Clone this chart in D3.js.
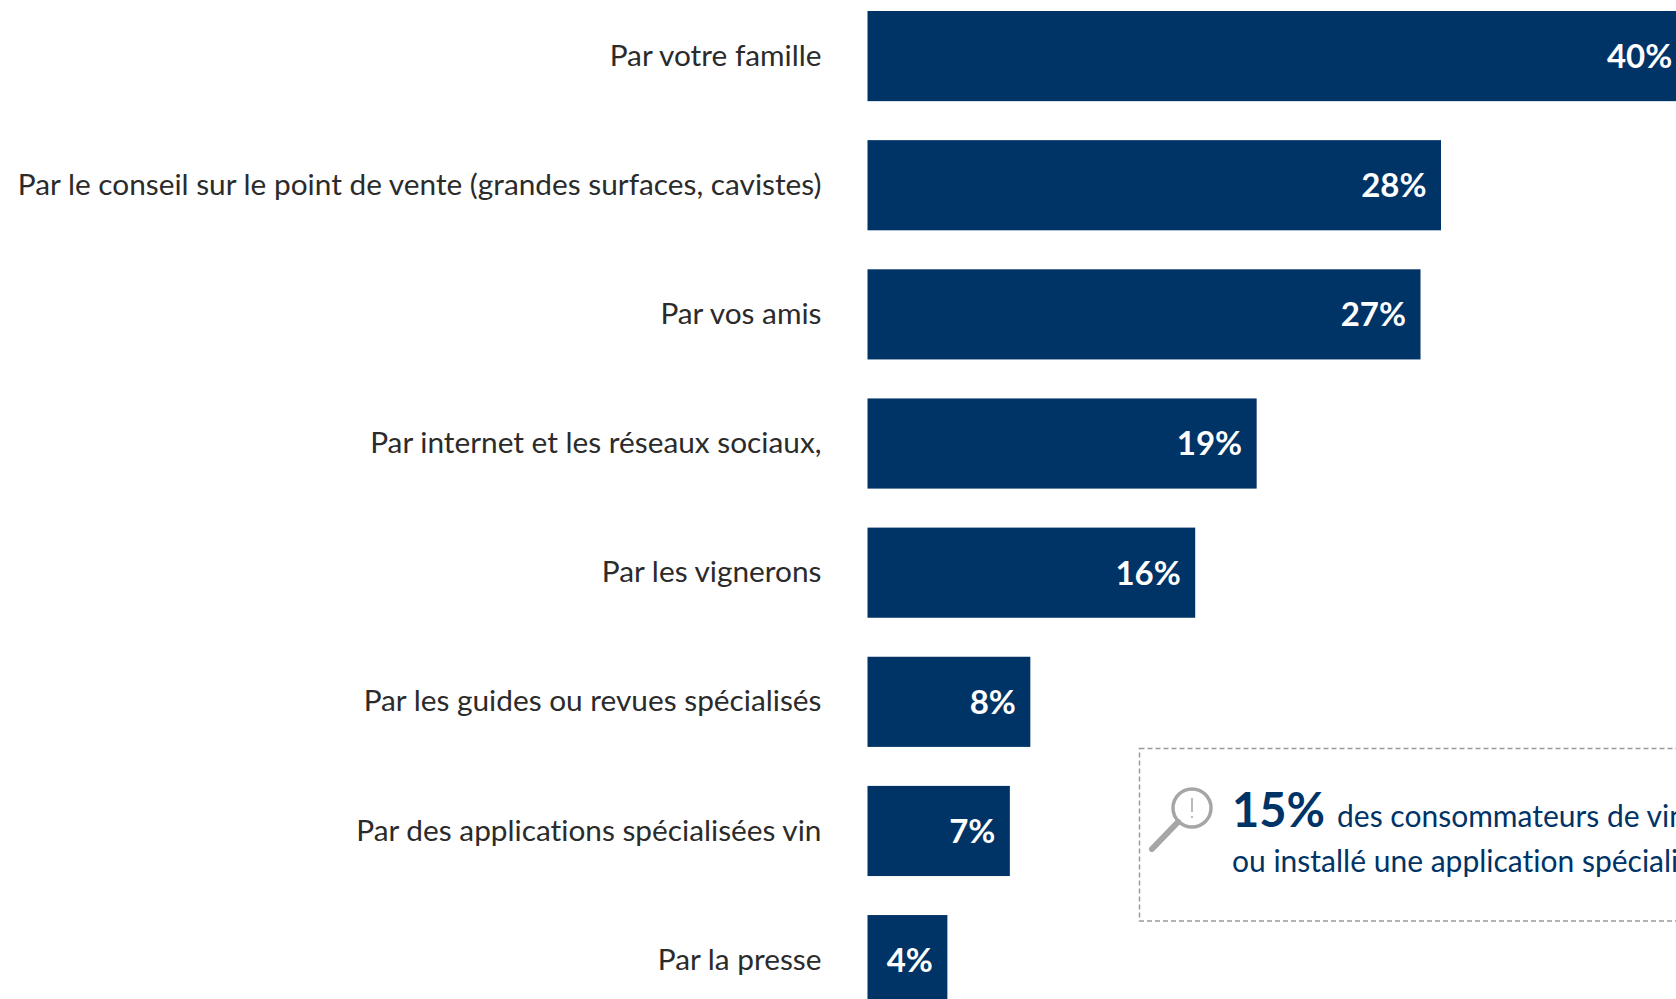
<!DOCTYPE html>
<html lang="fr"><head><meta charset="utf-8">
<script src="https://cdn.jsdelivr.net/npm/d3@7/dist/d3.min.js"></script>
<style>html,body{margin:0;padding:0;background:#fff;overflow:hidden}svg{display:block}text{font-family:Lato,"Open Sans",sans-serif;font-variant-ligatures:none}</style>
</head><body><svg id="c" width="1676" height="999"></svg>
<script>
const categories=["Par votre famille","Par le conseil sur le point de vente (grandes surfaces, cavistes)","Par vos amis","Par internet et les réseaux sociaux,","Par les vignerons","Par les guides ou revues spécialisés","Par des applications spécialisées vin","Par la presse"];
const values=[40,28,27,19,16,7.95,6.95,3.9];
const valueLabels=["40%","28%","27%","19%","16%","8%","7%","4%"];
const calloutBig="15%";
const calloutLine1="des consommateurs de vin";
const calloutLine2="ou installé une application spécialisée";
const NAVY="#003366";
const svg=d3.select("#c");
const x=d3.scaleLinear().domain([0,28]).range([867.5,1441]);
const y=d3.scaleBand().domain(categories).range([11,11+129.15*8-39]).paddingInner(39/129.15).paddingOuter(0).align(0);
const bars=svg.append("g");
bars.selectAll("rect").data(categories).join("rect")
 .attr("x",x(0)).attr("y",d=>y(d)).attr("height",y.bandwidth())
 .attr("width",(d,i)=>x(values[i])-x(0)).attr("fill",NAVY);
const yAxis=d3.axisLeft(y).tickSize(0).tickPadding(46);
const ag=svg.append("g").attr("transform",`translate(${x(0)},0)`).call(yAxis);
ag.select(".domain").remove();
ag.selectAll("text").attr("font-size",29.8).attr("fill","#2b2b2b").style("font-family","Lato").attr("dy",null)
 .attr("y",2).attr("dominant-baseline","middle");
svg.append("g").selectAll("text").data(categories).join("text")
 .attr("x",(d,i)=>x(values[i])-14.5).attr("y",d=>y(d)+y.bandwidth()/2+3.5).attr("text-anchor","end")
 .attr("dominant-baseline","middle").attr("fill","#fff").attr("font-weight",700).attr("font-size",33)
 .text((d,i)=>valueLabels[i]);
// callout
svg.append("rect").attr("x",1139.5).attr("y",748.5).attr("width",600).attr("height",172.5)
 .attr("fill","none").attr("stroke","#9a9a9a").attr("stroke-width",1.5).attr("stroke-dasharray","5 3");
const icon=svg.append("g").attr("fill","none").attr("stroke","#a6a6a6");
icon.append("circle").attr("cx",1192).attr("cy",808).attr("r",19).attr("stroke-width",3.5);
icon.append("line").attr("x1",1178).attr("y1",822).attr("x2",1152).attr("y2",849).attr("stroke-width",6).attr("stroke-linecap","round");
icon.append("line").attr("x1",1192).attr("y1",798).attr("x2",1192).attr("y2",812).attr("stroke-width",1.5);
icon.append("circle").attr("cx",1192).attr("cy",817).attr("r",1).attr("fill","#a6a6a6").attr("stroke","none");
const t=svg.append("text").attr("x",1232).attr("y",827).attr("fill",NAVY);
t.append("tspan").attr("font-size",47).attr("font-weight",700).text(calloutBig);
t.append("tspan").attr("dx",12).attr("font-size",30).text(calloutLine1);
svg.append("text").attr("x",1232).attr("y",872).attr("fill",NAVY).attr("font-size",30).text(calloutLine2);
</script></body></html>
